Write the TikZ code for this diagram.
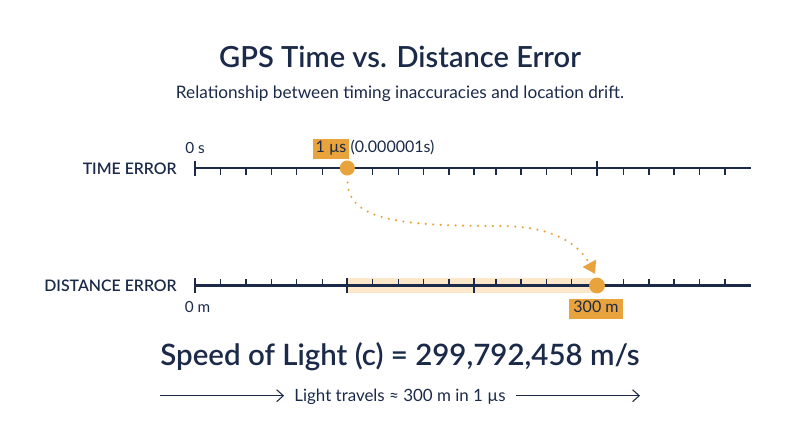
\documentclass[tikz,border=0pt]{standalone}
\usepackage{fontspec}
\setmainfont{Lato}
\newfontfamily\semi{Lato Semibold}
\usetikzlibrary{arrows.meta}
\definecolor{navy}{HTML}{1B2A49}
\definecolor{ouro}{HTML}{E9A33C}
\definecolor{faixa}{HTML}{FCE7CB}

\begin{document}
\begin{tikzpicture}[x=0.75pt,y=-0.75pt]
\useasboundingbox (0,0) rectangle (800,447);

% Titulo e subtitulo
\node[navy,anchor=base] (titulo) at (400,67.7) {\semi\fontsize{21.8}{26}\selectfont GPS Time vs. Distance Error};
\node[navy,anchor=base] (subtitulo) at (400,98.3) {\fontsize{12.9}{15}\selectfont Relationship between timing inaccuracies and location drift.};

% Faixa destacada (0 a 300 m)
\fill[faixa] (347.3,278) rectangle (597,293);

% Eixo do tempo
\draw[navy,line width=2.2pt] (195,168) -- (751,168);
\foreach \x in {220.7,246,271.7,296.7,322.3,347.3,372.7,398.3,423.3,449,474,496,521,546.7,571.7,623.3,649,674,699.3,725}
  \draw[navy,line width=0.9pt] (\x,168) -- (\x,174.5);
\foreach \x in {195,597.3}
  \draw[navy,line width=1.6pt] (\x,160.5) -- (\x,175.5);
\node[navy,anchor=base east,inner sep=0pt] (rotulotempo) at (177,174) {\semi\fontsize{11.9}{14}\selectfont TIME ERROR};
\node[navy,anchor=base] (zeros) at (195,153.3) {\fontsize{11.5}{13}\selectfont 0 s};

% Eixo da distancia
\draw[navy,line width=2.2pt] (195,285.5) -- (751,285.5);
\foreach \x in {220.7,246,271.7,296.7,322.3,372.7,398.3,423.3,449,496,521,546.7,571.7,623.3,649,674,699.3,725}
  \draw[navy,line width=0.9pt] (\x,285.5) -- (\x,278.5);
\foreach \x in {195,347.3,474}
  \draw[navy,line width=1.6pt] (\x,278) -- (\x,293);
\node[navy,anchor=base east,inner sep=0pt] (rotulodist) at (177,291) {\semi\fontsize{11.9}{14}\selectfont DISTANCE ERROR};
\node[navy,anchor=base] (zerom) at (197.5,312.7) {\fontsize{11.5}{13}\selectfont 0 m};

% Pontos de 1 us e 300 m
\node[circle,fill=ouro,inner sep=0pt,minimum size=11.3pt] (tdot) at (347.3,168) {};
\node[circle,fill=ouro,inner sep=0pt,minimum size=11.8pt] (ddot) at (597,285.5) {};

% Etiquetas
\node[fill=ouro,text=navy,anchor=base,inner xsep=2pt,text height=8.5pt,text depth=2.5pt,inner ysep=2pt] (umus) at (331,152.7) {\fontsize{12}{14}\selectfont 1 µs};
\node[navy,anchor=base west,inner xsep=0.8pt] (umusdec) at (umus.base east) {\fontsize{12}{14}\selectfont (0.000001s)};
\node[fill=ouro,text=navy,anchor=base,inner xsep=3pt,text height=8.5pt,text depth=2.5pt,inner ysep=2pt] (trezm) at (596,312.7) {\fontsize{12}{14}\selectfont 300 m};

% Ligacao tempo -> distancia
\draw[ouro,line width=1.8pt,line cap=round,dash pattern=on 0pt off 5.6pt,shorten <=5pt,shorten >=3pt,-{Triangle[length=9pt,width=11pt]}]
  (tdot.south) .. controls (349,220) and (400,226) .. (500,226)
  .. controls (545,226) and (576,239) .. (ddot.north);

% Velocidade da luz
\node[navy,anchor=base] (luzc) at (400,365) {\semi\fontsize{22.1}{27}\selectfont Speed of Light (c) = 299,792,458 m/s};

% Setas da nota
\coordinate (setaesq) at (160,395.7);
\coordinate (setadir) at (640,395.7);
\node[navy,anchor=base,inner xsep=7.5pt] (nota) at (400,401.7) {\fontsize{12.7}{15}\selectfont Light travels ≈ 300 m in 1 µs};
\draw[navy,line width=0.8pt,-{Straight Barb[length=5pt,width=9pt]}] (setaesq) -- (setaesq -| nota.west);
\draw[navy,line width=0.8pt,-{Straight Barb[length=5pt,width=9pt]}] (setaesq -| nota.east) -- (setadir);

\end{tikzpicture}
\end{document}
